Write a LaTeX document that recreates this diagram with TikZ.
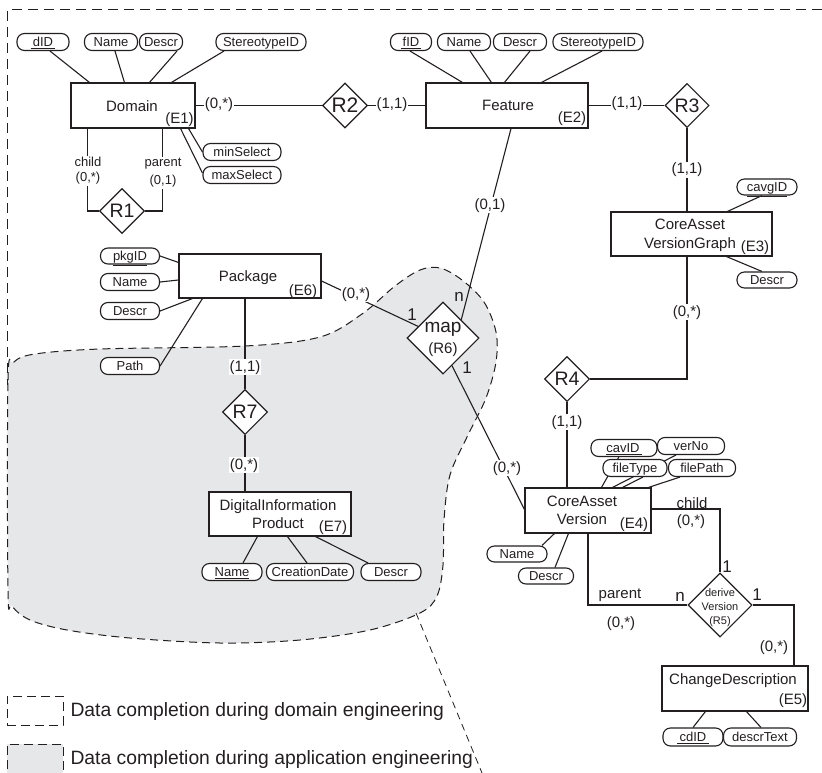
\documentclass[tikz,border=0pt]{standalone}
\usepackage{fontspec}
\setmainfont{Liberation Sans}
\usetikzlibrary{shapes.geometric,calc}
\definecolor{ink}{RGB}{35,31,32}
\definecolor{shade}{RGB}{230,231,232}
\newcommand\fsz[2]{\fontsize{#1pt}{#2pt}\selectfont}
\pgfdeclarelayer{blob}
\pgfdeclarelayer{wires}
\pgfsetlayers{blob,wires,main}

\begin{document}
\begin{tikzpicture}[x=1pt,y=-1pt,line width=1.1pt,color=ink,
  ent/.style={draw, fill=white, inner sep=0},
  attr/.style={draw, fill=white, rounded corners=7.5pt, minimum height=17pt, inner sep=0,
    font=\fsz{13}{15}, text height=9.3pt, text depth=0pt},
  rel/.style={diamond, draw, fill=white, inner sep=0, minimum width=45pt, minimum height=45pt,
    font=\fsz{19.5}{22}},
  etext/.style={inner sep=0, font=\fsz{15}{17}, text height=10.7pt, text depth=0pt},
  card/.style={fill=white, inner sep=1pt, font=\fsz{15}{17}, text height=11pt, text depth=3pt},
  cardplain/.style={inner sep=0, font=\fsz{15}{17}, text height=11pt, text depth=3pt},
  mult/.style={inner sep=0, font=\fsz{17}{19}, text height=12.2pt, text depth=0pt},
  multn/.style={inner sep=0, font=\fsz{17}{19}, text height=8.8pt, text depth=0pt},
  rolepair/.style={fill=white, inner sep=1pt, align=center},
  legtext/.style={anchor=west, inner sep=0, font=\fsz{19.3}{22}, text height=13.8pt, text depth=0pt},
  legbox/.style={draw, line width=1pt, dash pattern=on 9pt off 5pt, minimum width=56pt, inner sep=0},
  wire/.style={line width=1.1pt, color=ink}
]
\useasboundingbox (0,0) rectangle (822,773);

% ---------- entities ----------
\node[ent, minimum width=124pt, minimum height=45pt] (E1) at (133,105.5) {};
\node[etext] (E1n) at (132,106) {Domain};
\node[cardplain] (E1t) at (179.5,120) {(E1)};

\node[ent, minimum width=162pt, minimum height=45pt] (E2) at (507,105.5) {};
\node[etext] (E2n) at (508,105) {Feature};
\node[cardplain] (E2t) at (572,119) {(E2)};

\node[ent, minimum width=161pt, minimum height=44pt] (E3) at (691.5,234) {};
\node[etext] (E3n) at (690,224.5) {CoreAsset};
\node[etext] (E3m) at (690,243) {VersionGraph};
\node[cardplain] (E3t) at (755,247) {(E3)};

\node[ent, minimum width=126pt, minimum height=45pt] (E4) at (588,510.5) {};
\node[etext] (E4n) at (582,501) {CoreAsset};
\node[etext] (E4m) at (582,519) {Version};
\node[cardplain] (E4t) at (634,524) {(E4)};

\node[ent, minimum width=146pt, minimum height=45pt] (E5) at (735,688.5) {};
\node[etext] (E5n) at (733,679) {ChangeDescription};
\node[cardplain] (E5t) at (793,700) {(E5)};

\node[ent, minimum width=142pt, minimum height=44pt] (E6) at (250,276) {};
\node[etext] (E6n) at (248,276) {Package};
\node[cardplain] (E6t) at (303,291) {(E6)};

\node[ent, minimum width=142pt, minimum height=44pt] (E7) at (280,514) {};
\node[etext] (E7n) at (278,505) {DigitalInformation};
\node[etext] (E7m) at (278,523) {Product};
\node[cardplain] (E7t) at (333,527) {(E7)};

% ---------- relationships ----------
\node[rel] (R1) at (122,211) {R1};
\node[rel, font=\fsz{21}{23}] (R2) at (345,105.5) {R2};
\node[rel, minimum width=44pt, minimum height=44pt] (R3) at (687,105.5) {R3};
\node[rel] (R4) at (567,379) {R4};
\node[rel] (R7) at (245,412) {R7};
\node[rel, minimum width=72pt, minimum height=72pt] (R6) at (443,338) {};
\node[inner sep=0, font=\fsz{19}{21}, text height=9.9pt, text depth=0pt] (R6m) at (443,328) {map};
\node[cardplain] (R6t) at (443,349) {(R6)};
\node[rel, minimum width=64pt, minimum height=64pt] (R5) at (720,605) {};
\node[inner sep=0, font=\fsz{11}{13}, text height=8pt, text depth=0pt] (R5a) at (720,592) {derive};
\node[inner sep=0, font=\fsz{11}{13}, text height=8pt, text depth=0pt] (R5b) at (720,606) {Version};
\node[inner sep=0, font=\fsz{11}{13}, text height=8pt, text depth=2pt] (R5c) at (720,621) {(R5)};

% ---------- attributes ----------
\node[attr, minimum width=52pt] (dID) at (43,42) {\underline{\,dID\,}};
\node[attr, minimum width=53pt] (dNm) at (111,42) {Name};
\node[attr, minimum width=43pt] (dDs) at (161,42) {Descr};
\node[attr, minimum width=90pt] (dSt) at (261,42) {StereotypeID};
\node[attr, minimum width=78pt] (minS) at (242,152) {minSelect};
\node[attr, minimum width=78pt] (maxS) at (242,175) {maxSelect};

\node[attr, minimum width=41pt] (fID) at (411,42) {\underline{\,fID\,}};
\node[attr, minimum width=53pt] (fNm) at (464,42) {Name};
\node[attr, minimum width=53pt] (fDs) at (520,42) {Descr};
\node[attr, minimum width=90pt] (fSt) at (598,42) {StereotypeID};

\node[attr, minimum width=60pt, minimum height=16pt] (cavgID) at (767,187) {\underline{cavgID}};
\node[attr, minimum width=60pt, minimum height=16pt] (vgDs) at (767,280) {Descr};

\node[attr, minimum width=66pt] (cavID) at (624,448) {\underline{cavID\,}};
\node[attr, minimum width=67pt] (verNo) at (691,446) {verNo};
\node[attr, minimum width=64pt] (fType) at (635,468) {fileType};
\node[attr, minimum width=67pt] (fPath) at (702,468) {filePath};
\node[attr, minimum width=60pt, minimum height=16pt] (e4Nm) at (517,554) {Name};
\node[attr, minimum width=55pt, minimum height=16pt] (e4Ds) at (546,576) {Descr};

\node[attr, minimum width=60pt, minimum height=18pt] (cdID) at (693,737) {\underline{\,cdID\,}};
\node[attr, minimum width=73pt, minimum height=18pt] (dText) at (760,737) {descrText};

\node[attr, minimum width=59pt, minimum height=16pt] (pkgID) at (130,256) {\underline{pkgID}};
\node[attr, minimum width=59pt] (e6Nm) at (130,282) {Name};
\node[attr, minimum width=59pt] (e6Ds) at (130,311) {Descr};
\node[attr, minimum width=59pt] (e6Pa) at (130,366) {Path};

\node[attr, minimum width=60pt] (dName) at (232,572) {\underline{Name}};
\node[attr, minimum width=87pt] (cDate) at (310,572) {CreationDate};
\node[attr, minimum width=60pt] (dDesc) at (391,572) {Descr};

% ---------- legend ----------
\node[legbox, minimum height=29pt] (lgbox1) at (35,710.5) {};
\node[legtext] (lg1) at (70,710) {Data completion during domain engineering};
\node[legbox, fill=shade, minimum height=40pt] (lgbox2) at (35,764) {};
\node[legtext] (lg2) at (70,758) {Data completion during application engineering};

% ---------- completion regions ----------
\begin{pgfonlayer}{blob}
\begin{scope}[color=ink]
  \path[fill=shade, draw=ink, line width=1pt, dash pattern=on 8pt off 5pt]
    plot[smooth cycle, tension=0.55] coordinates {
      (8,590) (8,380) (14,362) (35,354) (100,349) (245,346) (320,337) (362,314)
      (395,286) (420,270) (440,268) (462,280) (484,302) (496,332) (496,362)
      (486,398) (468,435) (450,475) (444,520) (443,565) (437,596) (420,613)
      (370,630) (300,640) (220,643) (130,638) (67,630) (30,620) (12,606)};
  \draw[draw=ink, line width=1pt, dash pattern=on 10pt off 6pt] (822,10) -- (7,10) -- (7,385);
  \draw[draw=ink, line width=0.8pt, dash pattern=on 7pt off 5pt] (416,613) -- (482,773);
\end{scope}
\end{pgfonlayer}

% ---------- connectors ----------
\begin{pgfonlayer}{wires}
\begin{scope}[wire]
  % Domain
  \draw[wire] ([xshift=7pt]dID.south) -- ([xshift=19pt]E1.north west);
  \draw[wire] ([xshift=4pt]dNm.south) -- ([xshift=54pt]E1.north west);
  \draw[wire] ([xshift=16pt]dDs.south) -- ([xshift=79pt]E1.north west);
  \draw[wire] ([xshift=-37pt]dSt.south) -- ([xshift=101pt]E1.north west);
  \draw[wire] ([xshift=-7pt]E1.south east) -- (minS.west);
  \draw[wire] ([xshift=-15pt]E1.south east) -- ([yshift=2pt]maxS.west);
  \draw[wire] ([xshift=17pt]E1.south west) |- (R1.west);
  \draw[wire] ([xshift=92pt]E1.south west) |- (R1.east);
  \draw[wire] (E1.east) -- (R2.west);
  \draw[wire] (R2.east) -- (E2.west);
  % Feature
  \draw[wire] ([xshift=-1pt]fID.south) -- ([xshift=37pt]E2.north west);
  \draw[wire] ([xshift=6pt]fNm.south) -- ([xshift=66pt]E2.north west);
  \draw[wire] ([xshift=10pt]fDs.south) -- ([xshift=79pt]E2.north west);
  \draw[wire] ([xshift=4pt]fSt.south) -- ([xshift=116pt]E2.north west);
  \draw[wire] (E2.east) -- (R3.west);
  \draw[wire] (R3.south) -- (R3.south |- E3.north);
  % CoreAsset VersionGraph
  \draw[wire] ([xshift=-5pt]cavgID.south) -- ([xshift=117pt]E3.north west);
  \draw[wire] ([xshift=116pt]E3.south west) -- ([xshift=-5pt]vgDs.north);
  \draw[wire] ([xshift=-4.5pt]E3.south) |- (R4.east);
  \draw[wire] (R4.south) -- (R4.south |- E4.north);
  % map
  \draw[wire] ([xshift=4pt]E2.south) -- (R6.north east);
  \draw[wire] ([yshift=-5pt]E6.east) -- (R6.155);
  \draw[wire] (R6.-72) -- ([yshift=-22pt]E4.north west);
  % CoreAsset Version
  \draw[wire] ([xshift=77pt]E4.north west) -- (cavID);
  \draw[wire] ([xshift=88pt]E4.north west) -- ([xshift=-15pt]verNo.south);
  \draw[wire] ([xshift=98pt]E4.north west) -- ([xshift=8pt]fType.south);
  \draw[wire] ([xshift=124pt]E4.north west) -- ([xshift=-22pt]fPath.south);
  \draw[wire] ([xshift=30pt]E4.south west) -- ([xshift=25pt]e4Nm.north);
  \draw[wire] ([xshift=44pt]E4.south west) -- ([xshift=9pt]e4Ds.north);
  \draw[wire] ([yshift=1.5pt]E4.east) -| (R5.north);
  \draw[wire] (E4.south) |- (R5.west);
  \draw[wire] (R5.east) -| ([xshift=59pt]E5.north);
  % ChangeDescription
  \draw[wire] ([xshift=44pt]E5.south west) -- (cdID.north);
  \draw[wire] ([xshift=85pt]E5.south west) -- ([xshift=1pt]dText.north);
  % Package
  \draw[wire] (pkgID.east) -- ([yshift=-9pt]E6.north west);
  \draw[wire] (e6Nm.east) -- ([yshift=-4pt]E6.west);
  \draw[wire] (e6Ds.east) -- ([xshift=14pt]E6.south west);
  \draw[wire] (e6Pa.east) -- ([xshift=24pt]E6.south west);
  \draw[wire] ([xshift=-5pt]E6.south) -- (R7.north);
  \draw[wire] (R7.south) -- (R7.south |- E7.north);
  % DigitalInformation Product
  \draw[wire] ([xshift=49pt]E7.south west) -- ([xshift=11pt]dName.north);
  \draw[wire] ([xshift=79pt]E7.south west) -- ([xshift=-3pt]cDate.north);
  \draw[wire] ([xshift=107pt]E7.south west) -- ([xshift=-23pt]dDesc.north);
\end{scope}
\end{pgfonlayer}

% ---------- cardinalities and roles ----------
\node[rolepair, font=\fsz{13}{15}] (r1c) at (88,171) {child\\(0,*)};
\node[rolepair, font=\fsz{13}{18}] (r1p) at (163,173) {parent\\(0,1)};
\node[card] (c1) at (219,105) {(0,*)};
\node[card] (c2) at (392,105) {(1,1)};
\node[card] (c3) at (627,104) {(1,1)};
\node[card] (c4) at (687,170) {(1,1)};
\node[card] (c5) at (687,312) {(0,*)};
\node[card] (c6) at (567,422) {(1,1)};
\node[card] (c7) at (490,205) {(0,1)};
\node[card] (c8) at (356,294) {(0,*)};
\node[card] (c9) at (507,468) {(0,*)};
\node[card] (c10) at (245,367) {(1,1)};
\node[card] (c11) at (244,465) {(0,*)};
\node[cardplain] (c12) at (774,647) {(0,*)};
\node[etext] (r5child) at (692,503.5) {child};
\node[cardplain] (c13) at (691,521) {(0,*)};
\node[etext] (r5par) at (620,593) {parent};
\node[cardplain] (c14) at (621,623) {(0,*)};
\node[multn] (m1) at (680,597) {n};
\node[mult] (m2) at (727,566) {1};
\node[mult] (m3) at (757,594) {1};
\node[multn] (m4) at (459,297) {n};
\node[mult] (m5) at (412,314) {1};
\node[mult] (m6) at (467,367.5) {1};

\end{tikzpicture}
\end{document}
